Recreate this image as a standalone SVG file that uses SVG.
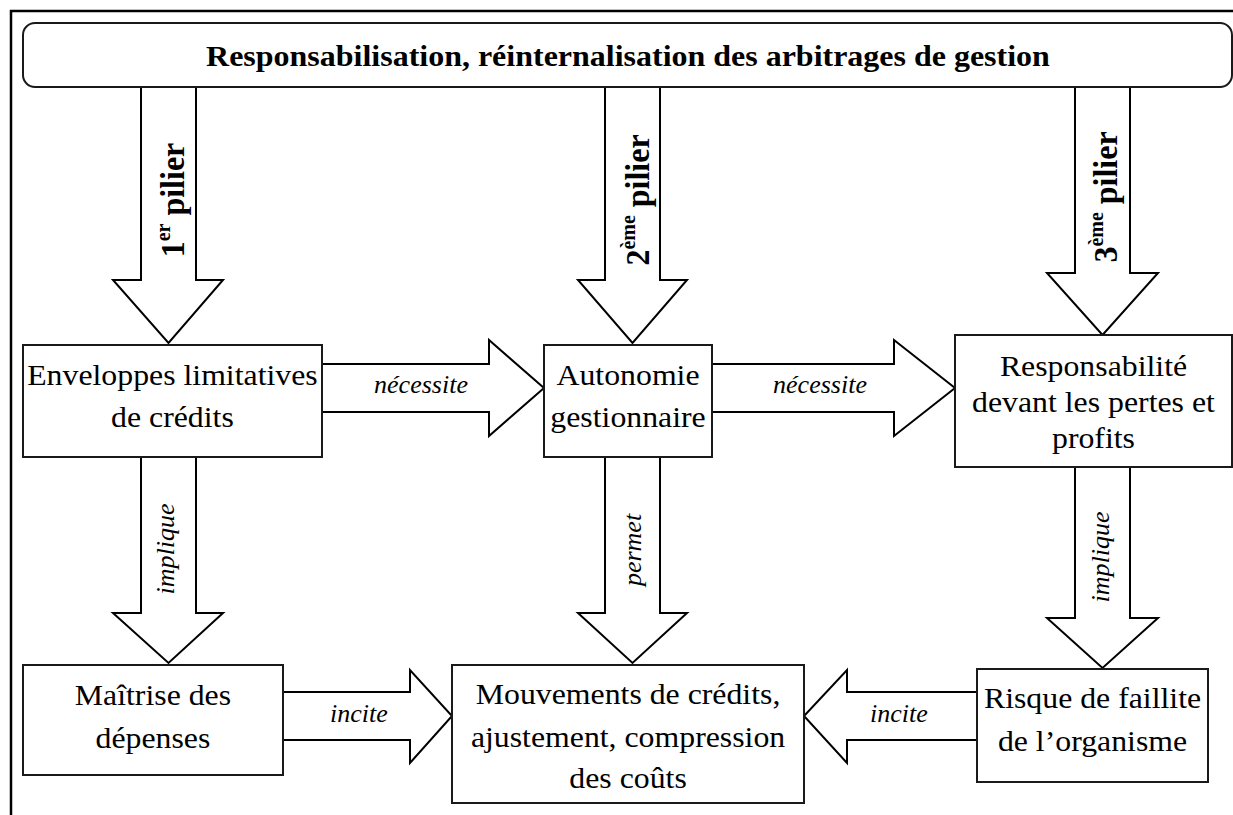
<svg xmlns="http://www.w3.org/2000/svg" width="1233" height="815" viewBox="0 0 1233 815">
  <style>
    .frame { fill: none; stroke: #000; stroke-width: 2.5; }
    .box { fill: #fff; stroke: #1a1a1a; stroke-width: 2; }
    .arrow { fill: #fff; stroke: #000; stroke-width: 2; stroke-linejoin: miter; }
    .txt { font-family: "Liberation Serif", "Times New Roman", serif; font-size: 30px; fill: #000; text-anchor: middle; }
    .title { font-family: "Liberation Serif", "Times New Roman", serif; font-size: 30px; font-weight: bold; fill: #000; text-anchor: middle; }
    .pillar { font-family: "Liberation Serif", "Times New Roman", serif; font-size: 32px; font-weight: bold; fill: #000; text-anchor: middle; }
    .sup { font-size: 20px; }
    .lbl { font-family: "Liberation Serif", "Times New Roman", serif; font-size: 26px; font-style: italic; fill: #000; text-anchor: middle; }
  </style>
  <rect width="1233" height="815" fill="#fff"/>

  <!-- outer frame (left and top edges) -->
  <path class="frame" d="M11,815 V11 H1233"/>

  <!-- connectors: block arrows -->
  <g id="connectors">
    <!-- pillars from the banner -->
    <polygon class="arrow" points="141,87 141,280 113,280 168.5,343 223,280 196,280 196,87"/>
    <polygon class="arrow" points="605,87 605,280 578,280 632.5,343 687,280 660,280 660,87"/>
    <polygon class="arrow" points="1075,87 1075,273 1047,273 1102.5,335 1158,273 1130,273 1130,87"/>
    <!-- nécessite -->
    <polygon class="arrow" points="322,364 489,364 489,340 544,388 489,436 489,412 322,412"/>
    <polygon class="arrow" points="712,364 894,364 894,340 955,388 894,436 894,412 712,412"/>
    <!-- implique / permet -->
    <polygon class="arrow" points="141,457 141,613 113,613 168.5,663 223,613 196,613 196,457"/>
    <polygon class="arrow" points="605,457 605,613 578,613 632.5,663 687,613 660,613 660,457"/>
    <polygon class="arrow" points="1075,467 1075,618 1047,618 1102.5,668 1158,618 1130,618 1130,467"/>
    <!-- incite -->
    <polygon class="arrow" points="283,692 410,692 410,670 452,716 410,763 410,740 283,740"/>
    <polygon class="arrow" points="977,692 847,692 847,670 804,716 847,763 847,740 977,740"/>

    <!-- arrow labels -->
    <text class="pillar" transform="translate(184,200) rotate(-90) scale(1 1.08)">1<tspan class="sup" dy="-13">er</tspan><tspan dy="13"> pilier</tspan></text>
    <text class="pillar" transform="translate(649,200) rotate(-90) scale(1 1.08)">2<tspan class="sup" dy="-13">ème</tspan><tspan dy="13"> pilier</tspan></text>
    <text class="pillar" transform="translate(1117,197) rotate(-90) scale(1 1.08)">3<tspan class="sup" dy="-13">ème</tspan><tspan dy="13"> pilier</tspan></text>
    <text class="lbl" x="421" y="393">nécessite</text>
    <text class="lbl" x="820" y="393">nécessite</text>
    <text class="lbl" transform="translate(174,549) rotate(-90)">implique</text>
    <text class="lbl" transform="translate(641,550) rotate(-90)">permet</text>
    <text class="lbl" transform="translate(1109,557) rotate(-90)">implique</text>
    <text class="lbl" x="359" y="722">incite</text>
    <text class="lbl" x="899" y="722">incite</text>
  </g>

  <g id="banner">
    <rect class="box" x="23" y="23" width="1209" height="64" rx="12" ry="12"/>
    <text class="title" transform="scale(1.066 1)" x="589.1" y="66">Responsabilisation, réinternalisation des arbitrages de gestion</text>
  </g>

  <g id="enveloppes">
    <rect class="box" x="23" y="345" width="299" height="112"/>
    <text class="txt" transform="scale(1.06 1)" x="162.7" y="385">Enveloppes limitatives</text>
    <text class="txt" transform="scale(1.06 1)" x="162.7" y="427">de crédits</text>
  </g>

  <g id="autonomie">
    <rect class="box" x="544" y="345" width="168" height="112"/>
    <text class="txt" transform="scale(1.06 1)" x="592.5" y="385">Autonomie</text>
    <text class="txt" transform="scale(1.06 1)" x="592.5" y="427">gestionnaire</text>
  </g>

  <g id="responsabilite">
    <rect class="box" x="955" y="335" width="277" height="132"/>
    <text class="txt" transform="scale(1.06 1)" x="1031.6" y="376">Responsabilité</text>
    <text class="txt" transform="scale(1.06 1)" x="1031.6" y="412">devant les pertes et</text>
    <text class="txt" transform="scale(1.06 1)" x="1031.6" y="448">profits</text>
  </g>

  <g id="maitrise">
    <rect class="box" x="23" y="665" width="260" height="110"/>
    <text class="txt" transform="scale(1.06 1)" x="144.3" y="705">Maîtrise des</text>
    <text class="txt" transform="scale(1.06 1)" x="144.3" y="748">dépenses</text>
  </g>

  <g id="mouvements">
    <rect class="box" x="452" y="665" width="352" height="138"/>
    <text class="txt" transform="scale(1.06 1)" x="592.5" y="704">Mouvements de crédits,</text>
    <text class="txt" transform="scale(1.06 1)" x="592.5" y="747">ajustement, compression</text>
    <text class="txt" transform="scale(1.06 1)" x="592.5" y="788">des coûts</text>
  </g>

  <g id="risque">
    <rect class="box" x="977" y="669" width="231" height="113"/>
    <text class="txt" transform="scale(1.06 1)" x="1030.7" y="708">Risque de faillite</text>
    <text class="txt" transform="scale(1.06 1)" x="1030.7" y="751">de l’organisme</text>
  </g>
</svg>
